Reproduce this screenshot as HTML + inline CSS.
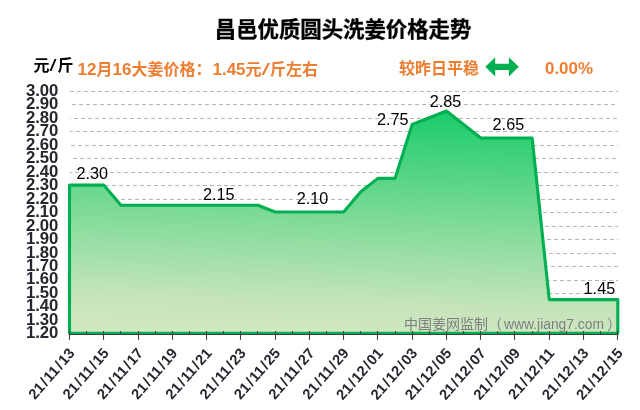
<!DOCTYPE html>
<html lang="zh-CN"><head><meta charset="utf-8"><title>昌邑优质圆头洗姜价格走势</title>
<style>
html,body{margin:0;padding:0;background:#fff;}
body{width:640px;height:410px;overflow:hidden;font-family:"Liberation Sans","Noto Sans CJK SC",sans-serif;}
svg{display:block;}
.t{font-family:"Liberation Sans","Noto Sans CJK SC",sans-serif;}
.ya{font-weight:bold;font-size:17px;fill:#26262e;}
.xa{font-weight:bold;font-size:14.7px;fill:#26262e;}
.dl{font-size:16.5px;fill:#000;}
.or{font-weight:bold;font-size:16px;fill:#ED7D31;}
.wm{font-size:14px;fill:#7f7f7f;}
.bk{font-weight:bold;font-size:16px;fill:#000;}
</style></head><body>
<svg width="640" height="410" viewBox="0 0 640 410">
<defs>
<linearGradient id="g" gradientUnits="userSpaceOnUse" x1="443" y1="110" x2="435.6" y2="334">
<stop offset="0" stop-color="rgb(23,205,105)"/><stop offset="0.18" stop-color="rgb(62,209,124)"/><stop offset="0.49" stop-color="rgb(124,218,152)"/><stop offset="0.71" stop-color="rgb(166,224,172)"/><stop offset="0.875" stop-color="rgb(197,228,187)"/><stop offset="1" stop-color="rgb(208,231,194)"/>
</linearGradient>
</defs>
<rect width="640" height="410" fill="#fff"/>

<g stroke="#b6b6b6" stroke-width="1" stroke-dasharray="4,3" fill="none">
<line x1="70" y1="91.5" x2="618" y2="91.5" stroke-dashoffset="0"/>
<line x1="70" y1="104.5" x2="618" y2="104.5" stroke-dashoffset="5"/>
<line x1="70" y1="118.5" x2="618" y2="118.5" stroke-dashoffset="3"/>
<line x1="70" y1="131.5" x2="618" y2="131.5" stroke-dashoffset="1"/>
<line x1="70" y1="145.5" x2="618" y2="145.5" stroke-dashoffset="6"/>
<line x1="70" y1="158.5" x2="618" y2="158.5" stroke-dashoffset="4"/>
<line x1="70" y1="172.5" x2="618" y2="172.5" stroke-dashoffset="2"/>
<line x1="70" y1="185.5" x2="618" y2="185.5" stroke-dashoffset="0"/>
<line x1="70" y1="199.5" x2="618" y2="199.5" stroke-dashoffset="5"/>
<line x1="70" y1="212.5" x2="618" y2="212.5" stroke-dashoffset="3"/>
<line x1="70" y1="226.5" x2="618" y2="226.5" stroke-dashoffset="1"/>
<line x1="70" y1="239.5" x2="618" y2="239.5" stroke-dashoffset="6"/>
<line x1="70" y1="253.5" x2="618" y2="253.5" stroke-dashoffset="4"/>
<line x1="70" y1="266.5" x2="618" y2="266.5" stroke-dashoffset="2"/>
<line x1="70" y1="280.5" x2="618" y2="280.5" stroke-dashoffset="0"/>
<line x1="70" y1="293.5" x2="618" y2="293.5" stroke-dashoffset="5"/>
<line x1="70" y1="307.5" x2="618" y2="307.5" stroke-dashoffset="3"/>
<line x1="70" y1="320.5" x2="618" y2="320.5" stroke-dashoffset="1"/>
</g>
<g><polygon points="69.50,333.30 69.50,185.11 86.63,185.11 103.77,185.11 120.90,205.31 138.04,205.31 155.17,205.31 172.31,205.31 189.44,205.31 206.57,205.31 223.71,205.31 240.84,205.31 257.98,205.31 275.11,212.05 292.25,212.05 309.38,212.05 326.52,212.05 343.65,212.05 360.78,191.84 377.92,178.37 395.05,178.37 412.19,124.48 429.32,117.74 446.46,111.01 463.59,124.48 480.72,137.95 497.86,137.95 514.99,137.95 532.13,137.95 549.26,299.62 566.40,299.62 583.53,299.62 600.67,299.62 617.80,299.62 617.80,333.30" fill="url(#g)" stroke="#00b050" stroke-width="3.1" stroke-linejoin="round"/></g>
<line x1="69" y1="334.5" x2="618" y2="334.5" stroke="#404040" stroke-width="1.1"/>
<g stroke="#404040" stroke-width="1.1">
<line x1="69.50" y1="331" x2="69.50" y2="339.8"/>
<line x1="86.50" y1="331" x2="86.50" y2="334.8"/>
<line x1="103.50" y1="331" x2="103.50" y2="339.8"/>
<line x1="120.50" y1="331" x2="120.50" y2="334.8"/>
<line x1="138.50" y1="331" x2="138.50" y2="339.8"/>
<line x1="155.50" y1="331" x2="155.50" y2="334.8"/>
<line x1="172.50" y1="331" x2="172.50" y2="339.8"/>
<line x1="189.50" y1="331" x2="189.50" y2="334.8"/>
<line x1="206.50" y1="331" x2="206.50" y2="339.8"/>
<line x1="223.50" y1="331" x2="223.50" y2="334.8"/>
<line x1="240.50" y1="331" x2="240.50" y2="339.8"/>
<line x1="257.50" y1="331" x2="257.50" y2="334.8"/>
<line x1="275.50" y1="331" x2="275.50" y2="339.8"/>
<line x1="292.50" y1="331" x2="292.50" y2="334.8"/>
<line x1="309.50" y1="331" x2="309.50" y2="339.8"/>
<line x1="326.50" y1="331" x2="326.50" y2="334.8"/>
<line x1="343.50" y1="331" x2="343.50" y2="339.8"/>
<line x1="360.50" y1="331" x2="360.50" y2="334.8"/>
<line x1="377.50" y1="331" x2="377.50" y2="339.8"/>
<line x1="395.50" y1="331" x2="395.50" y2="334.8"/>
<line x1="412.50" y1="331" x2="412.50" y2="339.8"/>
<line x1="429.50" y1="331" x2="429.50" y2="334.8"/>
<line x1="446.50" y1="331" x2="446.50" y2="339.8"/>
<line x1="463.50" y1="331" x2="463.50" y2="334.8"/>
<line x1="480.50" y1="331" x2="480.50" y2="339.8"/>
<line x1="497.50" y1="331" x2="497.50" y2="334.8"/>
<line x1="514.50" y1="331" x2="514.50" y2="339.8"/>
<line x1="532.50" y1="331" x2="532.50" y2="334.8"/>
<line x1="549.50" y1="331" x2="549.50" y2="339.8"/>
<line x1="566.50" y1="331" x2="566.50" y2="334.8"/>
<line x1="583.50" y1="331" x2="583.50" y2="339.8"/>
<line x1="600.50" y1="331" x2="600.50" y2="334.8"/>
<line x1="617.50" y1="331" x2="617.50" y2="339.8"/>
</g>
<g class="t ya" text-anchor="end">
<text x="58.4" y="95.8" textLength="32.5" lengthAdjust="spacingAndGlyphs">3.00</text>
<text x="58.4" y="109.3" textLength="32.5" lengthAdjust="spacingAndGlyphs">2.90</text>
<text x="58.4" y="122.7" textLength="32.5" lengthAdjust="spacingAndGlyphs">2.80</text>
<text x="58.4" y="136.2" textLength="32.5" lengthAdjust="spacingAndGlyphs">2.70</text>
<text x="58.4" y="149.7" textLength="32.5" lengthAdjust="spacingAndGlyphs">2.60</text>
<text x="58.4" y="163.2" textLength="32.5" lengthAdjust="spacingAndGlyphs">2.50</text>
<text x="58.4" y="176.6" textLength="32.5" lengthAdjust="spacingAndGlyphs">2.40</text>
<text x="58.4" y="190.1" textLength="32.5" lengthAdjust="spacingAndGlyphs">2.30</text>
<text x="58.4" y="203.6" textLength="32.5" lengthAdjust="spacingAndGlyphs">2.20</text>
<text x="58.4" y="217.1" textLength="32.5" lengthAdjust="spacingAndGlyphs">2.10</text>
<text x="58.4" y="230.5" textLength="32.5" lengthAdjust="spacingAndGlyphs">2.00</text>
<text x="58.4" y="244.0" textLength="32.5" lengthAdjust="spacingAndGlyphs">1.90</text>
<text x="58.4" y="257.5" textLength="32.5" lengthAdjust="spacingAndGlyphs">1.80</text>
<text x="58.4" y="270.9" textLength="32.5" lengthAdjust="spacingAndGlyphs">1.70</text>
<text x="58.4" y="284.4" textLength="32.5" lengthAdjust="spacingAndGlyphs">1.60</text>
<text x="58.4" y="297.9" textLength="32.5" lengthAdjust="spacingAndGlyphs">1.50</text>
<text x="58.4" y="311.4" textLength="32.5" lengthAdjust="spacingAndGlyphs">1.40</text>
<text x="58.4" y="324.8" textLength="32.5" lengthAdjust="spacingAndGlyphs">1.30</text>
<text x="58.4" y="338.3" textLength="32.5" lengthAdjust="spacingAndGlyphs">1.20</text>
</g>
<g class="t xa" text-anchor="end">
<text transform="translate(75.4,353.7) rotate(-49)" x="0" y="0" dx="0 0 1.3 1.3 0 1.3 1.3 0">21/11/13</text>
<text transform="translate(109.7,353.7) rotate(-49)" x="0" y="0" dx="0 0 1.3 1.3 0 1.3 1.3 0">21/11/15</text>
<text transform="translate(143.9,353.7) rotate(-49)" x="0" y="0" dx="0 0 1.3 1.3 0 1.3 1.3 0">21/11/17</text>
<text transform="translate(178.2,353.7) rotate(-49)" x="0" y="0" dx="0 0 1.3 1.3 0 1.3 1.3 0">21/11/19</text>
<text transform="translate(212.5,353.7) rotate(-49)" x="0" y="0" dx="0 0 1.3 1.3 0 1.3 1.3 0">21/11/21</text>
<text transform="translate(246.7,353.7) rotate(-49)" x="0" y="0" dx="0 0 1.3 1.3 0 1.3 1.3 0">21/11/23</text>
<text transform="translate(281.0,353.7) rotate(-49)" x="0" y="0" dx="0 0 1.3 1.3 0 1.3 1.3 0">21/11/25</text>
<text transform="translate(315.3,353.7) rotate(-49)" x="0" y="0" dx="0 0 1.3 1.3 0 1.3 1.3 0">21/11/27</text>
<text transform="translate(349.5,353.7) rotate(-49)" x="0" y="0" dx="0 0 1.3 1.3 0 1.3 1.3 0">21/11/29</text>
<text transform="translate(383.8,353.7) rotate(-49)" x="0" y="0" dx="0 0 1.3 1.3 0 1.3 1.3 0">21/12/01</text>
<text transform="translate(418.1,353.7) rotate(-49)" x="0" y="0" dx="0 0 1.3 1.3 0 1.3 1.3 0">21/12/03</text>
<text transform="translate(452.4,353.7) rotate(-49)" x="0" y="0" dx="0 0 1.3 1.3 0 1.3 1.3 0">21/12/05</text>
<text transform="translate(486.6,353.7) rotate(-49)" x="0" y="0" dx="0 0 1.3 1.3 0 1.3 1.3 0">21/12/07</text>
<text transform="translate(520.9,353.7) rotate(-49)" x="0" y="0" dx="0 0 1.3 1.3 0 1.3 1.3 0">21/12/09</text>
<text transform="translate(555.2,353.7) rotate(-49)" x="0" y="0" dx="0 0 1.3 1.3 0 1.3 1.3 0">21/12/11</text>
<text transform="translate(589.4,353.7) rotate(-49)" x="0" y="0" dx="0 0 1.3 1.3 0 1.3 1.3 0">21/12/13</text>
<text transform="translate(623.7,353.7) rotate(-49)" x="0" y="0" dx="0 0 1.3 1.3 0 1.3 1.3 0">21/12/15</text>
</g>
<g class="t dl" text-anchor="middle">
<text x="92.3" y="179.2" textLength="31.6" lengthAdjust="spacingAndGlyphs">2.30</text>
<text x="218.7" y="200" textLength="31.6" lengthAdjust="spacingAndGlyphs">2.15</text>
<text x="312.5" y="204" textLength="31.6" lengthAdjust="spacingAndGlyphs">2.10</text>
<text x="392.7" y="125" textLength="31.6" lengthAdjust="spacingAndGlyphs">2.75</text>
<text x="445.6" y="107" textLength="31.6" lengthAdjust="spacingAndGlyphs">2.85</text>
<text x="508.4" y="130" textLength="31.6" lengthAdjust="spacingAndGlyphs">2.65</text>
<text x="599.4" y="294" textLength="31.6" lengthAdjust="spacingAndGlyphs">1.45</text>
</g>
<text class="t wm" y="329" ><tspan x="404">中国姜网监制</tspan><tspan x="488">（</tspan><tspan x="504" textLength="100" lengthAdjust="spacingAndGlyphs">www.jiang7.com</tspan><tspan x="607.3">）</tspan></text>
<text class="t" x="343.1" y="36.8" font-size="21.2" font-weight="bold" fill="#000" stroke="#000" stroke-width="0.3" text-anchor="middle" textLength="256.5" lengthAdjust="spacingAndGlyphs">昌邑优质圆头洗姜价格走势</text>
<text class="t bk" y="71.2" ><tspan x="33.5">元</tspan><tspan x="49.5" font-weight="normal" textLength="7" lengthAdjust="spacingAndGlyphs">/</tspan><tspan x="57.4">斤</tspan></text>
<text class="t or" y="74.5" ><tspan x="77.5" font-size="17" textLength="19" lengthAdjust="spacingAndGlyphs">12</tspan><tspan x="96.5">月</tspan><tspan x="112.5" font-size="17" textLength="19" lengthAdjust="spacingAndGlyphs">16</tspan><tspan x="131.5">大姜价格</tspan><tspan x="195.5">：</tspan><tspan x="212.5" font-size="17" textLength="33" lengthAdjust="spacingAndGlyphs">1.45</tspan><tspan x="245.5">元</tspan><tspan x="261.5" font-weight="normal" textLength="8.5" lengthAdjust="spacingAndGlyphs">/</tspan><tspan x="270">斤左右</tspan></text>
<text class="t or" y="74.3" ><tspan x="399">较昨日平稳</tspan></text>
<text class="t or" y="73.8" ><tspan x="545" font-size="16" textLength="48" lengthAdjust="spacingAndGlyphs">0.00%</tspan></text>
<polygon points="485.3,66.8 495.2,57.3 495.2,63.7 508.9,63.7 508.9,57.3 518.8,66.8 508.9,76.4 508.9,69.9 495.2,69.9 495.2,76.4" fill="#00b050"/>
</svg></body></html>
